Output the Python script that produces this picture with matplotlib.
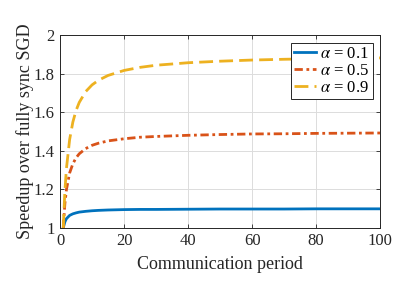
import numpy as np
import matplotlib
matplotlib.use('Agg')
import matplotlib.pyplot as plt
from matplotlib.ticker import FuncFormatter

plt.rcParams['font.family'] = ['Liberation Serif', 'DejaVu Serif']
plt.rcParams['mathtext.fontset'] = 'stix'

# communication period
tau = [1, 1.5, 2, 3, 4, 5, 6, 8, 10, 12, 15, 20, 25, 30, 40, 50, 60, 70, 80, 90, 100]

# speedup for each alpha
speed_01 = [1.0, 1.031, 1.048, 1.065, 1.073, 1.078, 1.082, 1.086, 1.089, 1.091, 1.093,
            1.095, 1.096, 1.096, 1.097, 1.098, 1.098, 1.098, 1.099, 1.099, 1.099]
speed_05 = [1.0, 1.125, 1.20, 1.286, 1.333, 1.364, 1.385, 1.412, 1.429, 1.44, 1.452,
            1.463, 1.471, 1.475, 1.481, 1.485, 1.488, 1.489, 1.491, 1.492, 1.493]
speed_09 = [1.0, 1.19, 1.31, 1.46, 1.55, 1.61, 1.652, 1.708, 1.743, 1.767, 1.792,
            1.818, 1.834, 1.845, 1.858, 1.866, 1.872, 1.876, 1.879, 1.881, 1.883]

labels = [r'$\alpha$ = 0.1', r'$\alpha$ = 0.5', r'$\alpha$ = 0.9']

fig = plt.figure(figsize=(4.2, 2.81), dpi=100)
ax = fig.add_axes([0.143, 0.189, 0.762, 0.685])

ax.plot(tau, speed_01, color='#0072BD', lw=2.0, ls='-', label=labels[0])
ax.plot(tau, speed_05, color='#D95319', lw=2.0, ls=(0, (3, 1.3, 1, 1.3)), label=labels[1])
ax.plot(tau, speed_09, color='#EDB120', lw=2.0, ls=(0, (5, 2.2)), label=labels[2])

ax.set_xlim(0, 100)
ax.set_ylim(1, 2)
ax.set_xticks(np.arange(0, 101, 20))
ax.set_yticks(np.arange(1, 2.01, 0.2))
ax.yaxis.set_major_formatter(FuncFormatter(lambda v, p: f'{v:g}'))
ax.grid(True, color='#dcdcdc', lw=0.7)
ax.set_axisbelow(True)
ax.tick_params(direction='in', top=True, right=True, labelsize=12, colors='#262626',
               length=3, width=0.6, pad=4)
for s in ax.spines.values():
    s.set_color('#262626')
    s.set_linewidth(0.7)

ax.set_xlabel('Communication period', fontsize=13, color='#262626', labelpad=5)
ax.set_ylabel('Speedup over fully sync SGD', fontsize=13, color='#262626', labelpad=0)

leg = ax.legend(loc='upper right', fontsize=12, fancybox=False, framealpha=1,
                edgecolor='#262626', handlelength=1.3, handletextpad=0.25,
                borderpad=0.2, labelspacing=0.05, borderaxespad=0.45)
leg.get_frame().set_linewidth(0.7)

fig.savefig('out.png', dpi=100)
